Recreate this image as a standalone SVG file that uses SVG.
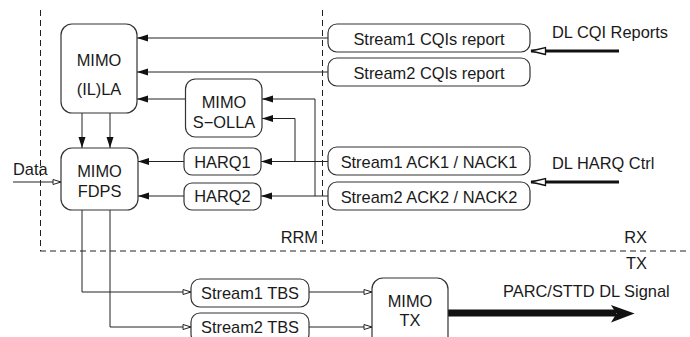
<svg xmlns="http://www.w3.org/2000/svg" width="690" height="337" viewBox="0 0 690 337">
<defs>
<style>
.box{fill:#fff;stroke:#333;stroke-width:1.2}
.t{font-family:"Liberation Sans",Arial,sans-serif;font-size:16.4px;fill:#1a1a1a}
.c{text-anchor:middle}
.e{text-anchor:end}
.ln{fill:none;stroke:#222;stroke-width:1}
.dash{fill:none;stroke:#222;stroke-width:1;stroke-dasharray:6,4}
</style>
<marker id="fa" markerUnits="userSpaceOnUse" markerWidth="12" markerHeight="8" refX="11" refY="3.5" orient="auto">
<path d="M0,0 L11,3.5 L0,7 z" fill="#111"/>
</marker>
<marker id="oa" markerUnits="userSpaceOnUse" markerWidth="12" markerHeight="8" refX="9" refY="3" orient="auto">
<path d="M1,0.5 L9,3 L1,5.5 z" fill="#fff" stroke="#222" stroke-width="1"/>
</marker>
<marker id="ta" markerUnits="userSpaceOnUse" markerWidth="18" markerHeight="10" refX="15.5" refY="4.5" orient="auto">
<path d="M1,1 L15.5,4.5 L1,8 z" fill="#fff" stroke="#111" stroke-width="1.3"/>
</marker>
</defs>
<rect width="690" height="337" fill="#fff"/>

<g id="regions">
<line class="dash" x1="40.5" y1="10" x2="40.5" y2="251"/>
<line class="dash" x1="322.5" y1="10" x2="322.5" y2="244" stroke="#555"/>
<line class="dash" x1="40" y1="251" x2="690" y2="251"/>
<text class="t e" x="318" y="243">RRM</text>
<text class="t e" x="647" y="243">RX</text>
<text class="t e" x="647" y="269">TX</text>
</g>

<g id="connectors">
<path class="ln" d="M328,38 H137" marker-end="url(#fa)"/>
<path class="ln" d="M328,72 H137" marker-end="url(#fa)"/>
<path class="ln" d="M185.5,99 H137" marker-end="url(#fa)"/>
<path class="ln" d="M82,113 V148" marker-end="url(#fa)"/>
<path class="ln" d="M110,113 V148" marker-end="url(#fa)"/>
<path class="ln" d="M184,161.5 H138" marker-end="url(#fa)"/>
<path class="ln" d="M184,196 H138" marker-end="url(#fa)"/>
<path class="ln" d="M328,161.5 H261" marker-end="url(#fa)"/>
<path class="ln" d="M328,196 H261" marker-end="url(#fa)"/>
<path class="ln" d="M315,196 V99 H262" marker-end="url(#fa)"/>
<path class="ln" d="M295,161.5 V118.5 H262" marker-end="url(#fa)"/>
<path class="ln" d="M13,182 H61" marker-end="url(#oa)"/>
<path class="ln" d="M82,210 V292 H191" marker-end="url(#oa)"/>
<path class="ln" d="M110,210 V327 H191" marker-end="url(#oa)"/>
<path class="ln" d="M309,292 H372" marker-end="url(#oa)"/>
<path class="ln" d="M309,327 H372" marker-end="url(#oa)"/>
<path d="M619,51 H531" stroke="#111" stroke-width="3" fill="none" marker-end="url(#ta)"/>
<path d="M619,182 H531" stroke="#111" stroke-width="3" fill="none" marker-end="url(#ta)"/>
<path d="M448,313 H616" stroke="#111" stroke-width="7" fill="none"/>
<polygon points="614,307.5 631,313.5 614,320 618,313.5" fill="#111" stroke="#111" stroke-width="2.5" stroke-linejoin="miter"/>
</g>

<g id="illa">
<rect class="box" x="61" y="24" width="76" height="89" rx="11"/>
<text class="t c" x="99" y="66">MIMO</text>
<text class="t c" x="99" y="95">(IL)LA</text>
</g>
<g id="fdps">
<rect class="box" x="61" y="148" width="77" height="62" rx="11"/>
<text class="t c" x="99.5" y="177">MIMO</text>
<text class="t c" x="99.5" y="197">FDPS</text>
</g>
<g id="solla">
<rect class="box" x="185.5" y="79" width="76.5" height="58" rx="10"/>
<text class="t c" x="224" y="108">MIMO</text>
<text class="t c" x="224" y="127.5">S−OLLA</text>
</g>
<g id="harq1">
<rect class="box" x="184" y="148" width="77" height="27" rx="8"/>
<text class="t c" x="222.5" y="168">HARQ1</text>
</g>
<g id="harq2">
<rect class="box" x="184" y="183" width="77" height="27" rx="8"/>
<text class="t c" x="222.5" y="202">HARQ2</text>
</g>
<g id="s1cqi">
<rect class="box" x="328" y="24" width="202" height="28" rx="9"/>
<text class="t c" x="429" y="45">Stream1 CQIs report</text>
</g>
<g id="s2cqi">
<rect class="box" x="328" y="58" width="202" height="28" rx="9"/>
<text class="t c" x="429" y="78.5">Stream2 CQIs report</text>
</g>
<g id="s1ack">
<rect class="box" x="328" y="147" width="202" height="28" rx="9"/>
<text class="t c" x="429" y="168">Stream1 ACK1 / NACK1</text>
</g>
<g id="s2ack">
<rect class="box" x="328" y="182" width="202" height="28" rx="9"/>
<text class="t c" x="429" y="203">Stream2 ACK2 / NACK2</text>
</g>
<g id="s1tbs">
<rect class="box" x="191" y="279" width="118" height="28" rx="9"/>
<text class="t c" x="250" y="298.5">Stream1 TBS</text>
</g>
<g id="s2tbs">
<rect class="box" x="191" y="313" width="118" height="30" rx="9"/>
<text class="t c" x="250" y="333">Stream2 TBS</text>
</g>
<g id="mimotx">
<rect class="box" x="372" y="278" width="76" height="72" rx="11"/>
<text class="t c" x="410" y="307">MIMO</text>
<text class="t c" x="410" y="326">TX</text>
</g>

<g id="labels">
<text class="t" x="13" y="175">Data</text>
<text class="t" x="552" y="37.5">DL CQI Reports</text>
<text class="t" x="552" y="168.5">DL HARQ Ctrl</text>
<text class="t" x="503" y="297">PARC/STTD DL Signal</text>
</g>
</svg>
